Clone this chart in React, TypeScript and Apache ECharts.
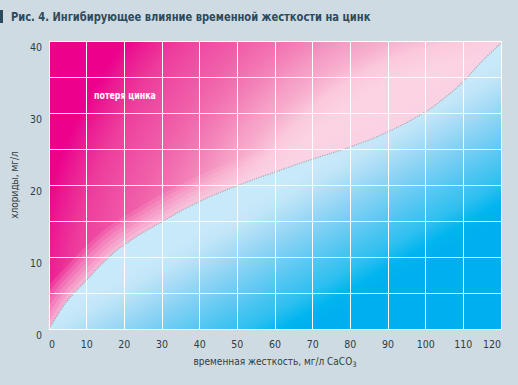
import React, { useEffect, useRef } from "react";
import * as echarts from "echarts";

// ---- texts ----
const TITLE = "Рис. 4. Ингибирующее влияние временной жесткости на цинк";
const X_NAME = "временная жесткость, мг/л CaCO";
const X_NAME_SUB = "3";
const Y_NAME = "хлориды, мг/л";
const ZONE_LABEL = "потеря цинка";

// ---- axes ----
const xMin = 0;
const xMax = 120;
const xStep = 10;
const yMin = 0;
const yMax = 40;
const yStep = 10;

// ---- boundary curve (temporary hardness vs chlorides) ----
const hardness = [0, 2, 5, 10, 15, 20, 30, 40, 50, 60, 70, 80, 90, 100, 105, 110, 115, 120];
const chlorides = [0, 1.7, 4.0, 6.8, 9.5, 11.7, 14.9, 17.7, 19.9, 21.8, 23.6, 25.3, 27.4, 30.2, 32.1, 34.4, 37.2, 39.7];

// ---- layout / style ----
const CW = 518;
const CH = 385;
const GL = 49;
const GT = 41;
const GR = 17;
const GB = 56;
const GW = CW - GL - GR;
const GH = CH - GT - GB;
const BG = "#cfdbe2";
const TITLE_COLOR = "#2d4a5c";
const TEXT_COLOR = "#333b40";
const FONT = "'DejaVu Sans Condensed', 'Liberation Sans', sans-serif";

const curve = hardness.map((x, i) => [x, chlorides[i]]);

// pink zone: radial gradient centred at the bottom-right corner of the plot
const R = 540;
const pinkStops: [number, string][] = [
  [270, "#fcd3e3"],
  [290, "#fbc9dc"],
  [300, "#f8bad5"],
  [311, "#f7abcc"],
  [326, "#f59cc4"],
  [343, "#f386ba"],
  [362, "#f272b2"],
  [383, "#f060a9"],
  [406, "#ef50a4"],
  [432, "#ed3d9c"],
  [458, "#eb1a92"],
  [474, "#ec008c"],
  [540, "#ec008c"],
];
const pinkFill = {
  type: "radial",
  x: GL + GW,
  y: GT + GH,
  r: R,
  global: true,
  colorStops: pinkStops.map(([d, c]) => ({ offset: d / R, color: c })),
};

// blue zone: linear gradient, isolines tilted ~30deg
const nx = 0.497;
const ny = 0.868;
const u0 = 240;
const u1 = 380;
const blueStops: [number, string][] = [
  [240, "#c8e9f9"],
  [253, "#c2e6f8"],
  [272, "#a8dcf6"],
  [290, "#8bd3f4"],
  [309, "#6cccf3"],
  [328, "#4cc5f1"],
  [347, "#2ec0f0"],
  [365, "#00b5ee"],
  [380, "#00afef"],
];
const blueFill = {
  type: "linear",
  x: GL + u0 * nx,
  y: GT + u0 * ny,
  x2: GL + u1 * nx,
  y2: GT + u1 * ny,
  global: true,
  colorStops: blueStops.map(([u, c]) => ({ offset: (u - u0) / (u1 - u0), color: c })),
};

const glowLayers = [
  { w: 48, a: 0.14 },
  { w: 40, a: 0.16 },
  { w: 32, a: 0.18 },
  { w: 24, a: 0.2 },
  { w: 16, a: 0.24 },
  { w: 8, a: 0.3 },
];

export default function App() {
  const ref = useRef<HTMLDivElement>(null);
  useEffect(() => {
    document.body.style.margin = "0";
    const chart = echarts.init(ref.current as HTMLDivElement, null, { renderer: "svg" });
    const glowSeries = glowLayers.map((g) => ({
      type: "line",
      data: curve,
      smooth: 0.5,
      showSymbol: false,
      silent: true,
      z: 1,
      clip: true,
      lineStyle: { width: g.w, color: `rgba(252,212,228,${g.a})`, cap: "butt" },
    }));
    // masks that hide the glow spilling out of the plot area (below axes)
    const masks = [
      { x: 0, y: 24, w: GL - 0.5, h: CH - 24 },
      { x: 0, y: GT + GH + 0.5, w: CW, h: GB },
      { x: GL + GW + 0.5, y: 24, w: GR, h: CH - 24 },
      { x: 380, y: 24, w: CW - 380, h: GT - 24 - 0.5 },
    ].map((m) => ({
      type: "rect",
      z: 5,
      silent: true,
      shape: { x: m.x, y: m.y, width: m.w, height: m.h },
      style: { fill: BG },
    }));
    const option: any = {
      animation: false,
      backgroundColor: BG,
      grid: {
        left: GL,
        top: GT,
        right: GR,
        bottom: GB,
        show: true,
        backgroundColor: pinkFill,
        borderWidth: 0,
      },
      xAxis: {
        type: "value",
        min: xMin,
        max: xMax,
        interval: xStep,
        z: 10,
        axisLine: { show: true, lineStyle: { color: "#ffffff", width: 1 } },
        axisTick: { show: false },
        splitLine: { show: true, lineStyle: { color: "#ffffff", width: 1 } },
        axisLabel: {
          color: TEXT_COLOR,
          fontSize: 10.5,
          fontFamily: FONT,
          margin: 9,
          alignMinLabel: "left",
          alignMaxLabel: "right",
        },
        name: `{a|${X_NAME}}{s|${X_NAME_SUB}}`,
        nameLocation: "middle",
        nameGap: 27,
        nameTextStyle: {
          rich: {
            a: { fontSize: 10, fontFamily: FONT, color: TEXT_COLOR, lineHeight: 12, verticalAlign: "top" },
            s: { fontSize: 7.5, fontFamily: FONT, color: TEXT_COLOR, lineHeight: 8, padding: [6, 0, 0, 0], verticalAlign: "bottom" },
          },
        },
      },
      yAxis: {
        type: "value",
        min: yMin,
        max: yMax,
        interval: yStep,
        z: 10,
        axisLine: { show: true, lineStyle: { color: "#ffffff", width: 1 } },
        axisTick: { show: false },
        minorTick: { show: false, splitNumber: 2 },
        splitLine: { show: true, lineStyle: { color: "#ffffff", width: 1 } },
        minorSplitLine: { show: true, lineStyle: { color: "#ffffff", width: 1 } },
        axisLabel: {
          color: TEXT_COLOR,
          fontSize: 10.5,
          fontFamily: FONT,
          margin: 7,
          verticalAlign: "top",
        },
        name: Y_NAME,
        nameLocation: "middle",
        nameGap: 28,
        nameTextStyle: { fontSize: 10, fontFamily: FONT, color: TEXT_COLOR },
      },
      graphic: [
        ...masks,
        { type: "rect", z: 20, left: 0, top: 10, shape: { width: 3, height: 13 }, style: { fill: TITLE_COLOR } },
        {
          type: "text",
          z: 20,
          x: 11,
          y: 10,
          scaleX: 0.85,
          style: {
            text: TITLE,
            fill: TITLE_COLOR,
            fontSize: 13,
            fontWeight: "bold",
            fontFamily: FONT,
          },
        },
        {
          type: "text",
          z: 20,
          x: 94,
          y: 90,
          scaleX: 0.8,
          style: {
            text: ZONE_LABEL,
            fill: "#ffffff",
            fontSize: 11,
            fontWeight: "bold",
            fontFamily: FONT,
          },
        },
      ],
      series: [
        ...glowSeries,
        {
          type: "line",
          data: curve,
          smooth: 0.5,
          showSymbol: false,
          silent: true,
          z: 2,
          lineStyle: { width: 1.2, color: "#a3adb3", type: "dotted" },
          areaStyle: { color: blueFill, opacity: 1, origin: "start" },
        },
      ],
    };
    chart.setOption(option);
    return () => chart.dispose();
  }, []);
  return <div ref={ref} style={{ width: CW, height: CH }} />;
}
